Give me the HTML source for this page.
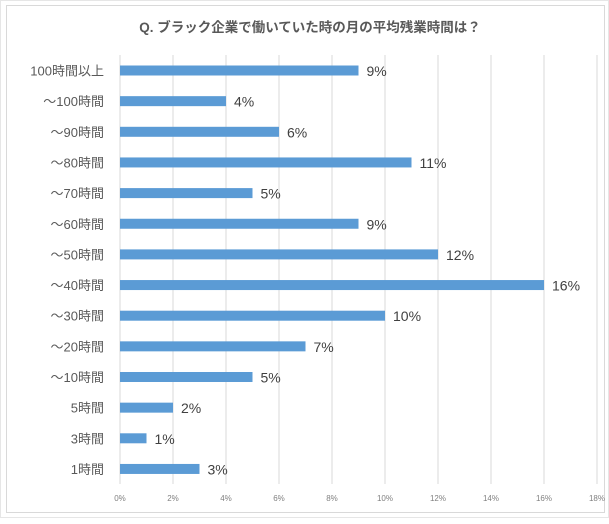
<!DOCTYPE html>
<html><head><meta charset="utf-8"><style>
body{margin:0;background:#fff;width:609px;height:519px;overflow:hidden;font-family:"Liberation Sans","Noto Sans CJK JP",sans-serif}
</style></head><body>
<svg width="609" height="519" xmlns="http://www.w3.org/2000/svg" font-family="Liberation Sans, Noto Sans CJK JP, sans-serif">
<rect x="0.5" y="0.5" width="608" height="517" fill="#fff" stroke="#e6e6e6"/>
<rect x="6.5" y="5.5" width="598" height="507" fill="#fff" stroke="#d9d9d9"/>
<text x="310" y="32" text-anchor="middle" font-size="13.5" font-weight="bold" fill="#595959">Q. ブラック企業で働いていた時の月の平均残業時間は？</text>
<g stroke="#d9d9d9" stroke-width="1">
<line x1="120" y1="55" x2="120" y2="484"/><line x1="173" y1="55" x2="173" y2="484"/><line x1="226" y1="55" x2="226" y2="484"/><line x1="279" y1="55" x2="279" y2="484"/><line x1="332" y1="55" x2="332" y2="484"/><line x1="385" y1="55" x2="385" y2="484"/><line x1="438" y1="55" x2="438" y2="484"/><line x1="491" y1="55" x2="491" y2="484"/><line x1="544" y1="55" x2="544" y2="484"/><line x1="597" y1="55" x2="597" y2="484"/>
</g>
<g font-size="8" fill="#808080" text-anchor="middle">
<text x="120" y="501">0%</text><text x="173" y="501">2%</text><text x="226" y="501">4%</text><text x="279" y="501">6%</text><text x="332" y="501">8%</text><text x="385" y="501">10%</text><text x="438" y="501">12%</text><text x="491" y="501">14%</text><text x="544" y="501">16%</text><text x="597" y="501">18%</text>
</g>
<g fill="#5b9bd5">
<rect x="120" y="65.5" width="238.5" height="10"/>
<rect x="120" y="96.15" width="106" height="10"/>
<rect x="120" y="126.8" width="159" height="10"/>
<rect x="120" y="157.45" width="291.5" height="10"/>
<rect x="120" y="188.1" width="132.5" height="10"/>
<rect x="120" y="218.75" width="238.5" height="10"/>
<rect x="120" y="249.4" width="318" height="10"/>
<rect x="120" y="280.05" width="424" height="10"/>
<rect x="120" y="310.7" width="265" height="10"/>
<rect x="120" y="341.35" width="185.5" height="10"/>
<rect x="120" y="372" width="132.5" height="10"/>
<rect x="120" y="402.65" width="53" height="10"/>
<rect x="120" y="433.3" width="26.5" height="10"/>
<rect x="120" y="463.95" width="79.5" height="10"/>
</g>
<g font-size="13" fill="#595959" text-anchor="end">
<text x="104" y="75.5">100時間以上</text>
<text x="104" y="106.15">～100時間</text>
<text x="104" y="136.8">～90時間</text>
<text x="104" y="167.45">～80時間</text>
<text x="104" y="198.1">～70時間</text>
<text x="104" y="228.75">～60時間</text>
<text x="104" y="259.4">～50時間</text>
<text x="104" y="290.05">～40時間</text>
<text x="104" y="320.7">～30時間</text>
<text x="104" y="351.35">～20時間</text>
<text x="104" y="382">～10時間</text>
<text x="104" y="412.65">5時間</text>
<text x="104" y="443.3">3時間</text>
<text x="104" y="473.95">1時間</text>
</g>
<g font-size="14" fill="#404040">
<text x="366.5" y="76">9%</text>
<text x="234" y="106.65">4%</text>
<text x="287" y="137.3">6%</text>
<text x="419.5" y="167.95">11%</text>
<text x="260.5" y="198.6">5%</text>
<text x="366.5" y="229.25">9%</text>
<text x="446" y="259.9">12%</text>
<text x="552" y="290.55">16%</text>
<text x="393" y="321.2">10%</text>
<text x="313.5" y="351.85">7%</text>
<text x="260.5" y="382.5">5%</text>
<text x="181" y="413.15">2%</text>
<text x="154.5" y="443.8">1%</text>
<text x="207.5" y="474.45">3%</text>
</g>
</svg>
</body></html>
